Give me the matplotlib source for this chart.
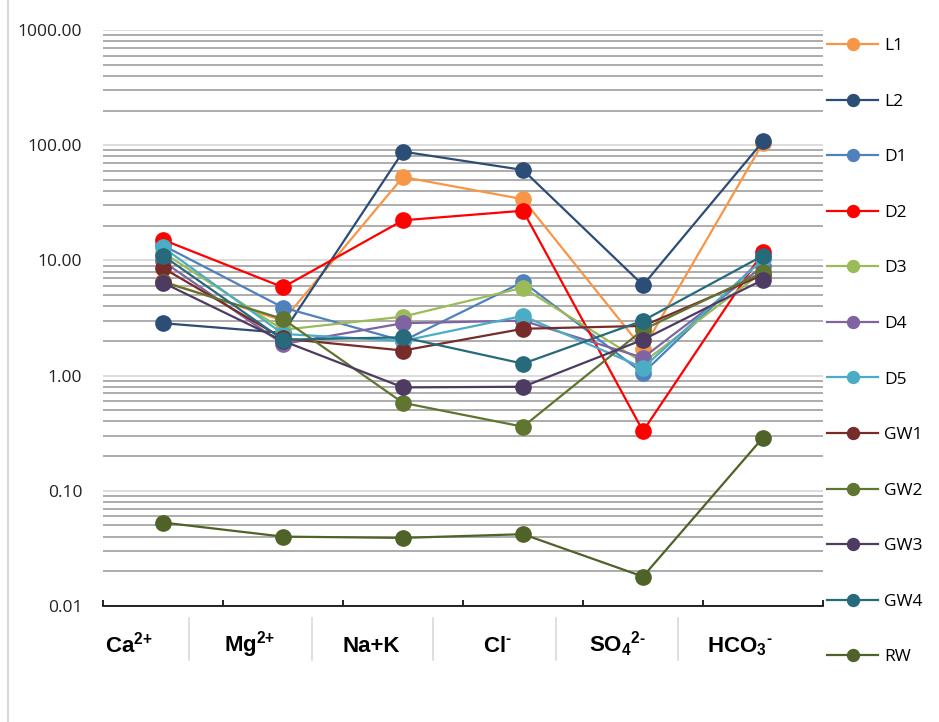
import matplotlib
matplotlib.use('Agg')
import matplotlib.pyplot as plt
from matplotlib.lines import Line2D
from matplotlib.ticker import LogLocator, FixedLocator, FuncFormatter, NullFormatter

plt.rcParams['font.family'] = ['Open Sans', 'DejaVu Sans']
plt.rcParams['mathtext.fontset'] = 'custom'
plt.rcParams['mathtext.bf'] = 'Liberation Sans:bold'
plt.rcParams['mathtext.rm'] = 'Liberation Sans:bold'
plt.rcParams['mathtext.default'] = 'bf'

# ions (x categories) and their printed labels
categories = ['Ca', 'Mg', 'Na+K', 'Cl', 'SO4', 'HCO3']
cat_labels = [r'Ca$^{\text{2+}}$', r'Mg$^{\text{2+}}$', 'Na+K', r'Cl$^{\text{-}}$',
              r'SO$_4$$^{\text{2-}}$', r'HCO$_3$$^{\text{-}}$']

# concentrations
L1 = [6.6, 3.0, 53, 34, 1.7, 105]
L2 = [2.85, 2.35, 88, 61, 6.1, 108]
D1 = [13.5, 3.9, 2.0, 6.5, 1.05, 10.5]
D2 = [15.1, 5.85, 22.3, 27, 0.33, 11.8]
D3 = [11.7, 2.5, 3.25, 5.8, 1.3, 8.0]
D4 = [9.8, 1.88, 2.85, 3.0, 1.43, 8.9]
D5 = [13.0, 2.3, 2.0, 3.3, 1.17, 10.2]
GW1 = [8.6, 2.1, 1.65, 2.55, 2.7, 7.5]
GW2 = [6.5, 3.1, 0.58, 0.36, 2.5, 7.9]
GW3 = [6.4, 2.0, 0.79, 0.8, 2.05, 6.8]
GW4 = [11.0, 2.05, 2.15, 1.27, 3.0, 11.0]
RW = [0.053, 0.040, 0.039, 0.042, 0.018, 0.29]

names = ['L1', 'L2', 'D1', 'D2', 'D3', 'D4', 'D5', 'GW1', 'GW2', 'GW3', 'GW4', 'RW']
series = [L1, L2, D1, D2, D3, D4, D5, GW1, GW2, GW3, GW4, RW]
colors = ['#F79646', '#2C4D75', '#4F81BD', '#FF0000', '#9BBB59', '#8064A2',
          '#4BACC6', '#772C2A', '#5F7530', '#4D3B62', '#276A7C', '#4F6228']

fig = plt.figure(figsize=(9.39, 7.22), dpi=100)
ax = fig.add_axes([0.1097, 0.1607, 0.7668, 0.7977])

x = list(range(len(categories)))
for name, vals, c in zip(names, series, colors):
    ax.plot(x, vals, color=c, lw=1.6, marker='o', ms=11, label=name)

ax.set_yscale('log')
ax.set_ylim(0.01, 1000)
ax.set_xlim(-0.5, len(categories) - 0.5)

ax.yaxis.set_major_locator(LogLocator(base=10, numticks=10))
ax.yaxis.set_minor_locator(LogLocator(base=10, subs=range(2, 10), numticks=20))
ax.yaxis.set_major_formatter(FuncFormatter(lambda v, p: f'{v:.2f}'))
ax.yaxis.set_minor_formatter(NullFormatter())
ax.tick_params(axis='y', which='both', length=0, pad=15, labelsize=12.5, labelcolor='#222222')
ax.grid(axis='y', which='major', color='#D9D9D9', lw=1.3)
ax.grid(axis='y', which='minor', color='#A6A6A6', lw=1.3)
ax.set_axisbelow(True)

ax.xaxis.set_major_locator(FixedLocator([i - 0.5 for i in range(len(categories) + 1)]))
ax.tick_params(axis='x', which='major', direction='in', length=4.5, width=1.2, labelbottom=False)
for s in ['left', 'right', 'top']:
    ax.spines[s].set_visible(False)
ax.spines['bottom'].set_linewidth(1.2)

# category labels and separators below the axis
label_x = [105, 224, 343, 483, 589, 707]
for lx, txt in zip(label_x, cat_labels):
    fig.text(lx / 939, 1 - 652 / 722, txt, ha='left', va='baseline', fontsize=16,
             family='Liberation Sans', fontweight='bold')
for sx in [189, 312, 433, 556, 678]:
    fig.add_artist(Line2D([sx / 939, sx / 939], [1 - 618 / 722, 1 - 660 / 722],
                          color='#D9D9D9', lw=1.2, transform=fig.transFigure))

# outer chart frame edge on the left
fig.add_artist(Line2D([8 / 939, 8 / 939], [0, 1], color='#D9D9D9', lw=1.5,
                      transform=fig.transFigure))

leg = ax.legend(loc='upper left', bbox_to_anchor=(827 / 939, 1 - 38 / 722),
                bbox_transform=fig.transFigure, frameon=False, fontsize=12.5,
                handlelength=2.95, handletextpad=0.35, labelspacing=2.27,
                borderpad=0, borderaxespad=0, markerscale=0.78)

fig.savefig('out.png', dpi=100)
